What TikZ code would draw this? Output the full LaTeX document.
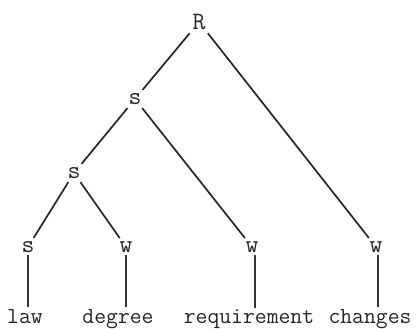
\documentclass[tikz,border=0pt]{standalone}
\begin{document}
\begin{tikzpicture}[x=1pt,y=-1pt,
  lab/.style={font=\fontsize{25}{26}\selectfont\ttfamily, inner sep=2.5pt, text=black!85},
  word/.style={font=\fontsize{23}{24}\selectfont\ttfamily, inner sep=0pt, anchor=base, text=black!85},
  br/.style={line width=1.7pt, black!85, shorten <=1pt, shorten >=1pt},
  stem/.style={line width=1.1pt, black!80}]
\useasboundingbox (0,0) rectangle (420,329);
\node[lab] (R) at (199,22) {R};
\node[lab] (S1) at (135,99) {s};
\node[lab] (S2) at (74,173) {s};
\node[lab] (a) at (28,247) {s};
\node[lab] (b) at (126,247) {w};
\node[lab] (c) at (252,247) {w};
\node[lab] (d) at (376,247) {w};
\node[word] (wa) at (25,323) {law};
\node[word] (wb) at (118,323) {degree};
\node[word] (wc) at (249,323) {requirement};
\node[word] (wd) at (370,323) {changes};
\coordinate (ta) at (30,307);
\coordinate (tb) at (126,307);
\coordinate (tc) at (255,308);
\coordinate (td) at (378,307);
\draw[br] (R) -- (S1);
\draw[br] (R) -- (d);
\draw[br] (S1) -- (S2);
\draw[br] (S1) -- (c);
\draw[br] (S2) -- (a);
\draw[br] (S2) -- (b);
\draw[stem] (a) -- (a |- ta);
\draw[stem] (b) -- (b |- tb);
\draw[stem, line width=1.6pt] (c.south -| tc) -- (tc);
\draw[stem, line width=1.6pt] (d.south -| td) -- (td);
\end{tikzpicture}
\end{document}
